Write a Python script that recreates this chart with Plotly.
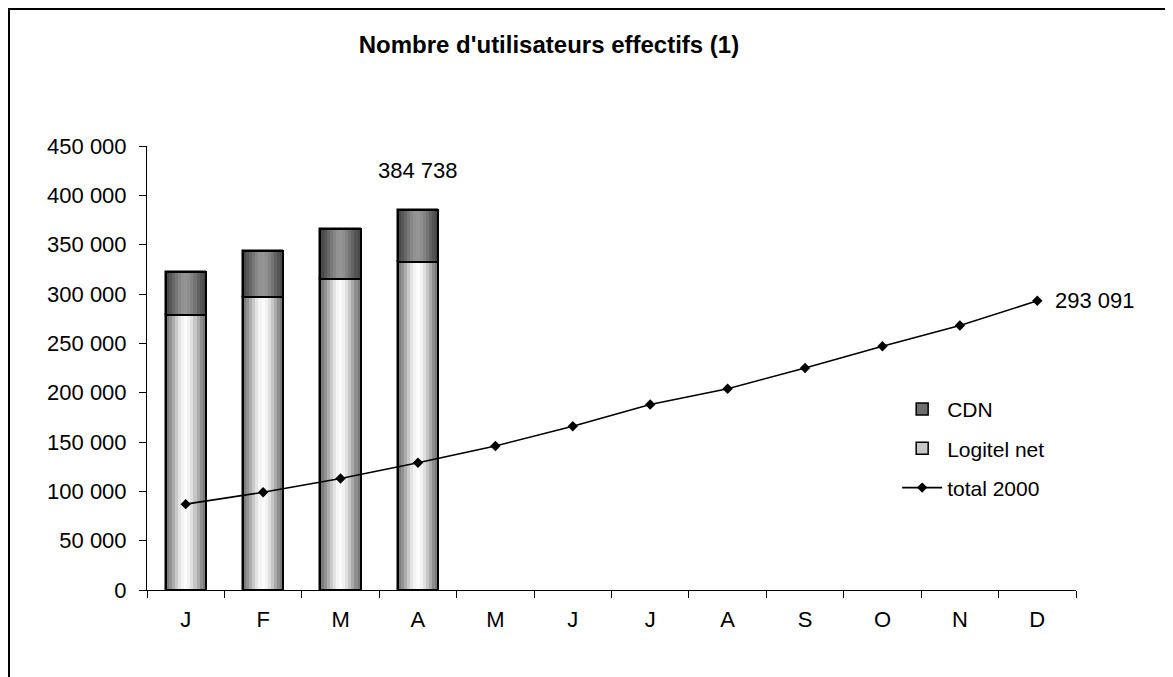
import plotly.graph_objects as go

# ---- data ----
month_ids = ["Jan", "Feb", "Mar", "Apr", "May", "Jun", "Jul", "Aug", "Sep", "Oct", "Nov", "Dec"]
month_labels = ["J", "F", "M", "A", "M", "J", "J", "A", "S", "O", "N", "D"]
bar_months = ["Jan", "Feb", "Mar", "Apr"]
logitel_net = [279000, 297000, 315000, 332000]
cdn = [43000, 47000, 51000, 52738]
total_2000 = [87000, 99000, 113000, 129000, 146000, 166000, 188000, 204000,
              225000, 247000, 268000, 293091]
label_apr = "384 738"
label_dec = "293 091"
y_ticks = [0, 50000, 100000, 150000, 200000, 250000, 300000, 350000, 400000, 450000]

# ---- styling ----
FONT = "Liberation Sans, Arial, sans-serif"
BAR_W = 0.52
logitel_grad = ["#7c7c7c", "#929292", "#adadad", "#c9c9c9", "#e3e3e3", "#f4f4f4", "#fbfbfb",
                "#f2f2f2", "#e0e0e0", "#c6c6c6", "#aaaaaa", "#8e8e8e", "#7a7a7a"]
cdn_grad = ["#4a4a4a", "#575757", "#676767", "#787878", "#878787", "#929292", "#959595",
            "#8f8f8f", "#838383", "#747474", "#636363", "#545454", "#484848"]

fig = go.Figure()

totals_bar = [l + c for l, c in zip(logitel_net, cdn)]

# legend-carrying base traces
fig.add_trace(go.Bar(x=bar_months, y=cdn, base=logitel_net, name="CDN", width=BAR_W,
                     legendgroup="g1",
                     marker=dict(color="#6e6e6e", line=dict(color="black", width=1.5)),
                     showlegend=True))
fig.add_trace(go.Bar(x=bar_months, y=logitel_net, name="Logitel net", width=BAR_W,
                     legendgroup="g2",
                     marker=dict(color="#c8c8c8", line=dict(color="black", width=1.5)),
                     showlegend=True))

# gradient strips
n = len(logitel_grad)
sw = BAR_W / n
for i in range(n):
    off = -BAR_W / 2 + i * sw
    fig.add_trace(go.Bar(x=bar_months, y=logitel_net, width=sw * 1.02, offset=off,
                         legendgroup="g2",
                         marker=dict(color=logitel_grad[i], line=dict(width=0)),
                         showlegend=False, hoverinfo="skip"))
    fig.add_trace(go.Bar(x=bar_months, y=cdn, base=logitel_net, width=sw * 1.02, offset=off,
                         legendgroup="g1",
                         marker=dict(color=cdn_grad[i], line=dict(width=0)),
                         showlegend=False, hoverinfo="skip"))

# outlines
fig.add_trace(go.Bar(x=bar_months, y=logitel_net, width=BAR_W, offset=-BAR_W / 2,
                     legendgroup="g2",
                     marker=dict(color="rgba(0,0,0,0)", line=dict(color="black", width=2)),
                     showlegend=False, hoverinfo="skip"))
fig.add_trace(go.Bar(x=bar_months, y=cdn, base=logitel_net, width=BAR_W, offset=-BAR_W / 2,
                     legendgroup="g1",
                     marker=dict(color="rgba(0,0,0,0)", line=dict(color="black", width=2)),
                     showlegend=False, hoverinfo="skip"))

# line
fig.add_trace(go.Scatter(x=month_ids, y=total_2000, name="total 2000", mode="lines+markers",
                         legendgroup="g3",
                         line=dict(color="black", width=1.6),
                         marker=dict(symbol="diamond", size=8, color="black")))

fig.add_annotation(x="Apr", y=totals_bar[3], text=label_apr, showarrow=False,
                   yshift=40, font=dict(family=FONT, size=22, color="black"))
fig.add_annotation(x="Dec", y=total_2000[-1], text=label_dec, showarrow=False,
                   xanchor="left", xshift=16, font=dict(family=FONT, size=22, color="black"))

# outer border
fig.add_shape(type="rect", xref="paper", yref="paper",
              x0=-138 / 929, x1=1.2, y0=-0.3, y1=1 + 137 / 444,
              line=dict(color="black", width=2), fillcolor="rgba(0,0,0,0)", layer="below")

fig.update_layout(
    width=1165, height=669,
    margin=dict(l=139, r=97, t=138, b=87),
    paper_bgcolor="white", plot_bgcolor="white",
    barmode="overlay", bargap=0,
    separators=", ",
    font=dict(family=FONT, size=22, color="black"),
    title=dict(text="<b>Nombre d'utilisateurs effectifs (1)</b>", x=0.4327, xanchor="center",
               xref="paper", y=1 - 37 / 669, yref="container", yanchor="middle",
               font=dict(family=FONT, size=24, color="black")),
    legend=dict(x=0.8075, y=0.453, xanchor="left", yanchor="top", bgcolor="rgba(0,0,0,0)",
                font=dict(family=FONT, size=21), tracegroupgap=9, itemwidth=40,
                traceorder="grouped"),
    showlegend=True,
    xaxis=dict(type="category", categoryorder="array", categoryarray=month_ids,
               tickvals=month_ids, ticktext=month_labels, tickson="boundaries",
               ticks="outside", ticklen=7, tickcolor="black", showline=True,
               linecolor="black", linewidth=1, showgrid=False, range=[-0.5, 11.5],
               ticklabelstandoff=10,
               tickfont=dict(family=FONT, size=22)),
    yaxis=dict(range=[0, 450000], tickvals=y_ticks, tickformat=",d", ticks="outside",
               ticklen=7, tickcolor="black", showline=True, linecolor="black", linewidth=1,
               showgrid=False, zeroline=False, ticklabelstandoff=8,
               tickfont=dict(family=FONT, size=22)),
)

fig.write_html("out.html")
